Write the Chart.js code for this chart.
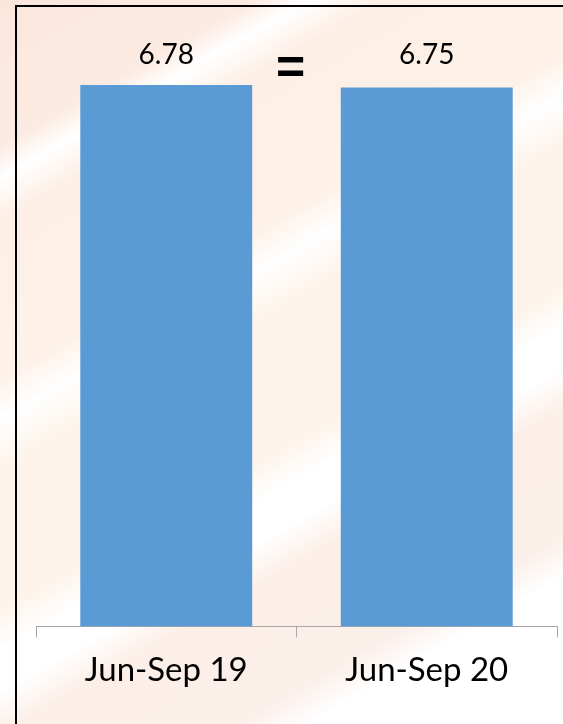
<!DOCTYPE html>
<html lang="en">
<head>
    <meta charset="UTF-8">
    <title>Jun-Sep 19 vs Jun-Sep 20</title>
    <script src="https://cdn.jsdelivr.net/npm/chart.js"></script>
    <style>
        html, body {
            margin: 0;
            padding: 0;
            width: 563px;
            height: 724px;
            overflow: hidden;
        }
        body {
            background: linear-gradient(150deg,
                #fbe6dc 0%, #fcebe2 14%, #ffffff 17%, #fdefe6 21%,
                #fdf1e8 36%, #ffffff 40%, #fdf3ea 45%,
                #fdf3ea 58%, #ffffff 62%, #ffffff 66%, #fcefe8 70%,
                #fbefea 82%, #ffffff 86%, #ffffff 100%);
        }
        .frame {
            position: absolute;
            left: 15px;
            top: 5px;
            width: 700px;
            height: 800px;
            border-left: 2px solid #000;
            border-top: 2px solid #000;
        }
        .wrap {
            position: absolute;
            left: 0;
            top: 0;
            width: 563px;
            height: 724px;
        }
    </style>
</head>
<body>
    <div class="frame"></div>
    <div class="wrap"><canvas id="myChart"></canvas></div>
    <script>
        const categories = ['Jun-Sep 19', 'Jun-Sep 20'];
        const values = [6.78, 6.75];
        const compareSign = '=';

        const labelFont = 'Lato, "Open Sans", sans-serif';

        // value labels over the bars and the sign between them
        const barLabels = {
            id: 'barLabels',
            afterDatasetsDraw(chart) {
                const ctx = chart.ctx;
                const meta = chart.getDatasetMeta(0);
                ctx.save();
                ctx.fillStyle = '#000';
                ctx.textAlign = 'center';
                ctx.textBaseline = 'alphabetic';
                ctx.font = '28px ' + labelFont;
                meta.data.forEach((bar, i) => {
                    ctx.fillText(values[i].toFixed(2), bar.x, 64);
                });
                const xs = chart.scales.x;
                ctx.font = 'bold 50px "Liberation Sans", sans-serif';
                ctx.fillText(compareSign, (xs.left + xs.right) / 2 - 6, 84);
                ctx.restore();
            }
        };

        new Chart(document.getElementById('myChart'), {
            type: 'bar',
            data: {
                labels: categories,
                datasets: [{
                    data: values,
                    backgroundColor: '#5b9bd5',
                    borderWidth: 0,
                    categoryPercentage: 1,
                    barPercentage: 0.66
                }]
            },
            options: {
                responsive: true,
                maintainAspectRatio: false,
                animation: false,
                layout: { padding: { left: 36, right: 6, top: 30, bottom: 21 } },
                plugins: { legend: { display: false }, tooltip: { enabled: false } },
                scales: {
                    x: {
                        grid: { drawOnChartArea: false, color: '#a6a6a6', tickLength: 11, offset: true },
                        border: { display: true, color: '#a6a6a6', width: 1 },
                        ticks: { color: '#000', font: { family: labelFont, size: 33 }, padding: 13 }
                    },
                    y: {
                        display: false,
                        min: 0,
                        max: 7.47
                    }
                }
            },
            plugins: [barLabels]
        });
    </script>
</body>
</html>
